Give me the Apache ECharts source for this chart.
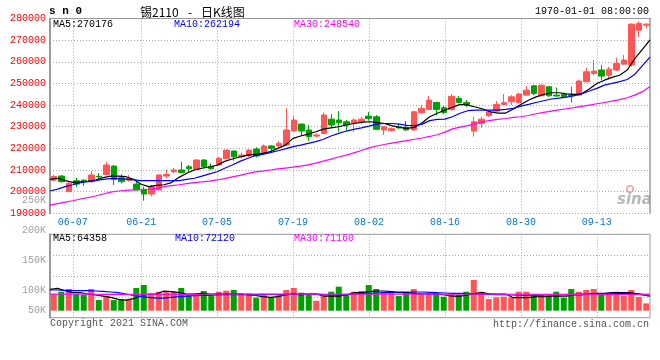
<!DOCTYPE html>
<html><head><meta charset="utf-8">
<script src="https://cdn.jsdelivr.net/npm/echarts@6/dist/echarts.min.js"></script>
<style>html,body{margin:0;padding:0;background:#fff}#c{width:660px;height:360px}</style>
</head><body><div id="c"></div>
<script>
const dates = ['06-02','06-03','06-04','06-07','06-08','06-09','06-10','06-11','06-15','06-16','06-17','06-18','06-21','06-22','06-23','06-24','06-25','06-28','06-29','06-30',
'07-01','07-02','07-05','07-06','07-07','07-08','07-09','07-12','07-13','07-14','07-15','07-16','07-19','07-20','07-21','07-22','07-23','07-26','07-27','07-28','07-29','07-30',
'08-02','08-03','08-04','08-05','08-06','08-09','08-10','08-11','08-12','08-13','08-16','08-17','08-18','08-19','08-20','08-23','08-24','08-25','08-26','08-27','08-30','08-31',
'09-01','09-02','09-03','09-06','09-07','09-08','09-09','09-10','09-13','09-14','09-15','09-16','09-17','09-22','09-23','09-24'];
const tickDates = ['06-07','06-21','07-05','07-19','08-02','08-16','08-30','09-13'];

const opens = [205300,207200,200000,205000,205300,204600,207100,207900,211800,206400,
205300,203500,201100,198900,200800,207200,209200,210000,211500,210400,
214600,211800,212300,215200,218800,216100,216500,219700,217700,221100,
221100,221500,228000,231200,228500,225700,226900,233500,233100,232300,
231500,232300,234900,234600,228500,228200,230000,229700,228500,236500,
238000,241200,238800,237900,243100,241200,228000,231500,235100,237200,
240300,241500,241100,244600,248900,244300,248500,244600,244900,244600,
244600,250800,254600,256200,253800,256200,258900,258500,274600,276900];
const closes = [207000,204600,203800,203500,204900,207700,206800,212300,205700,204600,
206200,200800,198900,202300,207700,208000,210000,208800,210600,214600,
211500,210600,215400,219200,216100,216900,219200,216500,221100,220000,
222300,228500,233100,228000,225400,226200,235400,230800,231800,230800,
233100,233500,233800,228800,230000,229100,229500,228500,236900,238500,
242300,238000,236600,244000,241200,240300,232300,233500,236900,240300,
241100,243800,245100,246900,245400,249200,244300,244200,243800,244200,
251100,255400,255700,253400,256600,259200,260800,277400,277700,277400];
const lows = [204700,204200,200000,202200,202600,204200,205400,207700,203100,203800,
204600,200800,195800,197800,200800,206200,208500,208500,208800,210400,
210800,210000,212300,215200,214300,215400,216100,215800,217400,218500,
220500,221100,227700,225700,223500,224900,226600,229700,227700,228500,
227700,231200,232800,228500,226200,227700,228800,228200,228300,235800,
237800,235400,235800,237300,240800,239200,225400,229500,234600,236900,
240000,240000,240800,244300,244600,244000,243800,243800,243400,241200,
244300,250500,253800,251500,251800,255700,258500,257700,271500,275400];
const highs = [207800,207700,204300,206400,205600,209600,208500,213800,212300,208000,
207700,204600,202300,203100,208000,210000,211000,213800,212300,215100,
215100,213000,216100,219500,218800,218000,219500,220500,221800,221400,
223400,238500,234900,231500,230800,226900,236500,235800,237200,233100,
233800,234600,236900,235400,230300,229700,231500,232600,237200,240000,
244200,241500,239500,245100,244200,242300,234600,234600,237700,241800,
245100,244600,245700,248800,249200,249500,248500,248100,245800,248500,
251800,257200,260800,258500,257700,261800,263100,277700,278800,277700];

const ma5 = [205700,206200,205100,204300,204500,204800,205400,206500,207200,207200,
206900,205700,203400,202300,202900,203200,204200,206600,208500,210000,
210800,211400,212200,214000,215100,216000,216900,217200,217700,218500,
220000,221500,224600,225700,226600,227700,228900,229500,230000,230800,
231500,232000,232300,232000,231500,230500,229700,229200,229700,231800,
234600,236200,237700,239000,240300,240000,239100,238200,236900,236300,
236300,238200,240300,242200,243800,244900,245700,245700,245200,244900,
245200,247400,250000,251500,252800,253800,256200,261500,265700,270176];
const ma10 = [200300,201200,202300,203200,204200,204600,205100,205700,206000,206000,
205800,205400,205100,205100,205100,205100,205100,205100,205700,206200,
207200,208200,209200,210800,212300,214000,215300,216600,217200,218000,
218900,219800,220800,221500,222300,223100,224200,225700,226900,228000,
228800,229500,230300,231200,231500,231500,231200,230600,230500,231200,
232800,233400,233500,234600,236200,237400,237700,237700,237700,237700,
238000,238500,239500,240300,241200,242000,242800,243200,243700,244300,
245200,246500,247700,249200,250000,250800,251800,254200,258200,262194];
const ma30 = [193800,194500,195200,195800,196600,197200,198000,198900,199800,200300,
200600,200800,200900,201100,201500,202300,202800,203200,203700,204200,
204500,204900,205400,206000,206800,207500,208300,209100,209500,210000,
210500,210900,211300,211800,212400,213200,214100,215000,216000,216900,
217900,219000,220200,221100,221800,222400,223000,223600,224200,224800,
225500,226300,227500,229000,229800,230500,231400,232300,232900,233400,
233800,234300,234600,235200,236000,236600,237200,237800,238300,238800,
239400,240000,240600,241200,241800,242500,243400,244600,246200,248540];

const volume = [73000,83600,95400,73400,69000,95400,46900,64500,46900,46900,
49900,99800,113000,73400,83600,86600,83600,99800,69000,76300,
86600,64500,83600,88000,91000,76300,76300,57200,69000,58700,
69000,91000,99800,79200,69000,44000,64500,83600,105600,69000,
83600,86600,113000,95400,83600,83600,64500,79200,95400,76300,
76300,79200,61600,73400,69000,83600,135000,83600,51300,58700,
61600,58700,83600,83600,64500,69000,64500,83600,57200,95400,
83600,91000,95400,73400,73400,83600,64500,91000,60000,32300];
const volMa5 = [93900,98300,88000,79200,79200,73400,69000,64500,58700,49900,
46900,52800,64500,73400,73400,86600,83600,79200,73400,73400,
76300,73400,73400,73400,73400,73400,70400,67500,61600,58700,
61600,69000,73400,69000,73400,73400,64500,64500,64500,69000,
79200,79200,83600,86600,86600,83600,79200,79200,76300,73400,
73400,73400,69000,64500,64500,69000,76300,79200,73400,73400,
73400,57200,57200,57200,61600,61600,64500,64500,64500,69000,
69000,73400,76300,76300,79200,79200,79200,76300,69000,64358];
const volMa10 = [91000,91000,89500,88000,88000,88000,86600,85100,82200,79200,
73400,67500,61600,58700,55700,55700,58700,61600,64500,66000,
67500,67500,69000,70400,70400,70400,70400,70400,71900,71900,
71900,71900,73400,73400,73400,73400,70400,69000,69000,70400,
73400,76300,76300,77800,79200,80700,82200,82200,82200,82200,
80700,79200,77800,76300,76300,74800,73400,73400,71900,70400,
70400,69000,67500,67500,67500,69000,69000,70400,70400,71900,
73400,73400,73400,74800,76300,76300,76300,74800,73400,72120];
const volMa30 = [72500,72500,72800,72800,72600,72600,72400,72200,72000,71700,
71500,71500,71700,71700,71900,72000,72000,72200,72200,72200,
72300,72300,72300,72400,72400,72400,72500,72500,72500,72300,
72300,72300,72400,72400,72500,72500,72400,72400,72500,72600,
72600,72700,72800,72900,72900,72900,72800,72800,72700,72700,
72600,72600,72500,72400,72400,72500,72600,72600,72500,72300,
72200,72100,72000,72000,71900,71800,71800,71700,71700,71600,
71500,71500,71500,71400,71400,71300,71300,71200,71200,71160];
const volTickLabels = ['250K','200K','150K','100K','50K'];

const MONO = '"Liberation Mono","DejaVu Sans Mono",monospace';
const RED = '#ff5555', GREEN = '#00a000', GRID = '#aaaaaa', FRAME = '#999999';
const last = a => a[a.length - 1];
const showTick = (i, v) => tickDates.indexOf(v) >= 0;

const candleData = opens.map((o, i) => [o, closes[i], lows[i], highs[i]]);
const volData = volume.map((v, i) => ({value: v, itemStyle: {color: closes[i] >= opens[i] ? RED : GREEN}}));

const chart = echarts.init(document.getElementById('c'), null, {renderer: 'canvas'});

const G0 = {left: 50, top: 18.5, width: 600, height: 194.8};
const G1 = {left: 50, top: 234.3, width: 600, height: 83.4};
const volLabelY = [200.7, 230.7, 260.7, 290.7, 310];

const graphics = [];
graphics.push({type: 'text', style: {text: 's n 0', x: 49, y: 11, font: 'bold 11px ' + MONO, fill: '#000', textVerticalAlign: 'middle'}});
graphics.push({type: 'text', style: {text: '锡2110', x: 140, y: 12, font: '12px "Noto Sans CJK SC"', fill: '#000', textVerticalAlign: 'middle'}});
graphics.push({type: 'text', style: {text: '-', x: 188, y: 12, font: '12px "Noto Sans CJK SC"', fill: '#000', textVerticalAlign: 'middle'}});
graphics.push({type: 'text', style: {text: '日K线图', x: 201, y: 12, font: '12px "Noto Sans CJK SC"', fill: '#000', textVerticalAlign: 'middle'}});
graphics.push({type: 'text', style: {text: '1970-01-01 08:00:00', x: 649, y: 11, font: '10px ' + MONO, fill: '#000', textAlign: 'right', textVerticalAlign: 'middle'}});
[['MA5:' + last(ma5), 53, '#000'], ['MA10:' + last(ma10), 174, '#0000ff'], ['MA30:' + last(ma30), 294, '#ff00ff']].forEach(t => {
  graphics.push({type: 'text', z: 10, style: {text: t[0], x: t[1], y: 24, font: '10px ' + MONO, fill: t[2], textVerticalAlign: 'middle'}});
});
[['MA5:' + last(volMa5), 53, '#000'], ['MA10:' + last(volMa10), 175, '#0000ff'], ['MA30:' + last(volMa30), 294, '#ff00ff']].forEach(t => {
  graphics.push({type: 'text', z: 10, style: {text: t[0], x: t[1], y: 238.5, font: '10px ' + MONO, fill: t[2], textVerticalAlign: 'middle'}});
});
volTickLabels.forEach((t, i) => {
  graphics.push({type: 'text', style: {text: t, x: 46, y: volLabelY[i], font: '10px ' + MONO, fill: '#a0a0a0', textAlign: 'right', textVerticalAlign: 'middle'}});
});
graphics.push({type: 'text', style: {text: 'Copyright 2021 SINA.COM', x: 50, y: 323.5, font: '10px ' + MONO, fill: '#555', textVerticalAlign: 'middle'}});
graphics.push({type: 'text', style: {text: 'http://finance.sina.com.cn', x: 649, y: 324, font: '10px ' + MONO, fill: '#555', textAlign: 'right', textVerticalAlign: 'middle'}});
graphics.push({type: 'circle', shape: {cx: 630, cy: 189, r: 3.2}, style: {fill: 'none', stroke: '#f8a0a0', lineWidth: 1.6}});
graphics.push({type: 'text', style: {text: 'sina', x: 617, y: 200, font: 'italic bold 15px "DejaVu Sans"', fill: '#b8b8b8', textVerticalAlign: 'middle'}});

const option = {
  animation: false,
  backgroundColor: '#fff',
  grid: [
    Object.assign({show: false}, G0),
    Object.assign({show: true, borderColor: FRAME, borderWidth: 1, backgroundColor: 'transparent'}, G1)
  ],
  xAxis: [
    {type: 'category', gridIndex: 0, data: dates, boundaryGap: true, show: false},
    {type: 'category', gridIndex: 0, data: dates, boundaryGap: false, position: 'bottom',
      axisLine: {show: false}, axisTick: {show: false},
      axisLabel: {interval: showTick, color: '#0a78c8', fontFamily: MONO, fontSize: 10, margin: 4},
      splitLine: {show: true, interval: showTick, lineStyle: {color: GRID, type: [1, 2], width: 1}}},
    {type: 'category', gridIndex: 0, data: dates, position: 'top', boundaryGap: false,
      axisLine: {show: true, lineStyle: {color: FRAME, width: 1}}, axisTick: {show: false}, axisLabel: {show: false}, splitLine: {show: false}},
    {type: 'category', gridIndex: 1, data: dates, boundaryGap: true, show: false},
    {type: 'category', gridIndex: 1, data: dates, boundaryGap: false, position: 'bottom',
      axisLine: {show: false}, axisTick: {show: false}, axisLabel: {show: false},
      splitLine: {show: true, interval: showTick, lineStyle: {color: GRID, type: [1, 2], width: 1}}}
  ],
  yAxis: [
    {type: 'value', gridIndex: 0, min: 190000, max: 280000, interval: 10000, position: 'left',
      axisLine: {show: true, lineStyle: {color: FRAME, width: 2}}, axisTick: {show: false},
      axisLabel: {color: '#ff0000', fontFamily: MONO, fontSize: 10, margin: 4, padding: [0, 0, 3, 0], formatter: v => String(v)},
      splitLine: {show: true, lineStyle: {color: GRID, type: [1, 2], width: 1}}},
    {type: 'value', gridIndex: 0, min: 190000, max: 280000, position: 'right',
      axisLine: {show: true, lineStyle: {color: FRAME, width: 1.5}}, axisTick: {show: false}, axisLabel: {show: false}, splitLine: {show: false}},
    {type: 'value', gridIndex: 1, min: -30800, max: 336160, position: 'left',
      axisLine: {show: true, lineStyle: {color: FRAME, width: 2}}, axisTick: {show: false}, axisLabel: {show: false}, splitLine: {show: false}},
    {type: 'value', gridIndex: 1, min: 0, max: 4, interval: 1, position: 'right',
      axisLine: {show: false}, axisTick: {show: false}, axisLabel: {show: false},
      splitLine: {show: true, lineStyle: {color: GRID, type: [1, 2], width: 1}}}
  ],
  series: [
    {type: 'candlestick', xAxisIndex: 0, yAxisIndex: 0, data: candleData, barWidth: 6,
      itemStyle: {color: RED, color0: GREEN, borderColor: RED, borderColor0: GREEN, borderWidth: 1}},
    {type: 'line', xAxisIndex: 1, yAxisIndex: 0, data: ma5, symbol: 'none', lineStyle: {color: '#000', width: 1.2}},
    {type: 'line', xAxisIndex: 1, yAxisIndex: 0, data: ma10, symbol: 'none', lineStyle: {color: '#0000ff', width: 1.2}},
    {type: 'line', xAxisIndex: 1, yAxisIndex: 0, data: ma30, symbol: 'none', lineStyle: {color: '#ff00ff', width: 1.2}},
    {type: 'bar', xAxisIndex: 3, yAxisIndex: 2, data: volData, barWidth: 6},
    {type: 'line', xAxisIndex: 4, yAxisIndex: 2, data: volMa5, symbol: 'none', lineStyle: {color: '#000', width: 1.2}},
    {type: 'line', xAxisIndex: 4, yAxisIndex: 2, data: volMa10, symbol: 'none', lineStyle: {color: '#0000ff', width: 1.2}},
    {type: 'line', xAxisIndex: 4, yAxisIndex: 2, data: volMa30, symbol: 'none', lineStyle: {color: '#ff00ff', width: 1.2}}
  ],
  graphic: graphics
};
chart.setOption(option);
</script></body></html>
